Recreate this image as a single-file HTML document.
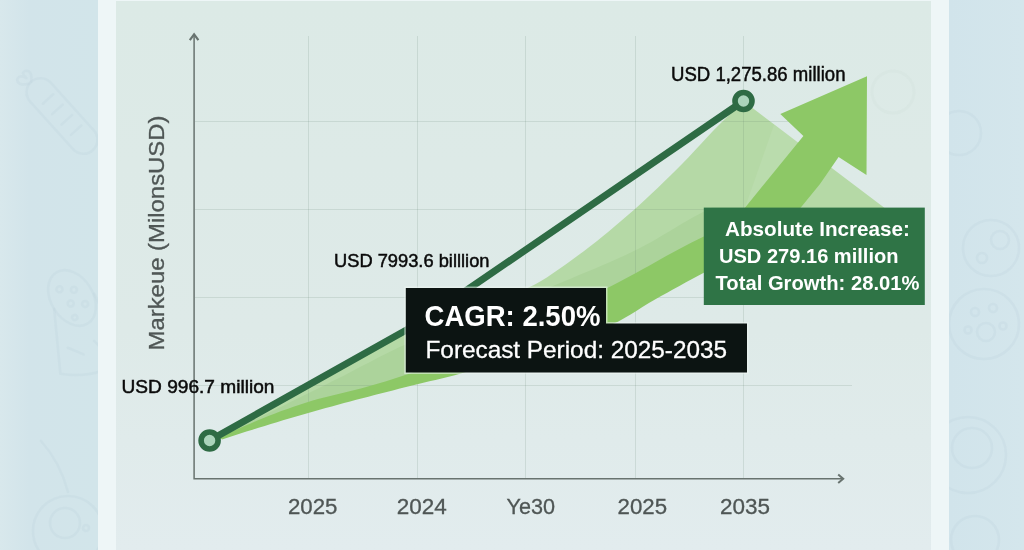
<!DOCTYPE html>
<html lang="en">
<head>
<meta charset="utf-8">
<title>Market Forecast</title>
<style>
html,body{margin:0;padding:0;}
body{width:1024px;height:550px;overflow:hidden;background:#d2e4e9;font-family:"Liberation Sans",sans-serif;}
svg{display:block;position:absolute;left:0;top:0;}
text{font-family:"Liberation Sans",sans-serif;}
</style>
</head>
<body>
<svg width="1024" height="550" viewBox="0 0 1024 550">
<defs>
<linearGradient id="bgL" x1="0" x2="1" y1="0" y2="0">
<stop offset="0" stop-color="#d8e8ec"/><stop offset="0.3" stop-color="#d2e4ea"/><stop offset="1" stop-color="#d2e5ea"/>
</linearGradient>
<linearGradient id="bgR" x1="0" x2="1" y1="0" y2="0">
<stop offset="0" stop-color="#d1e4eb"/><stop offset="1" stop-color="#d4e6ec"/>
</linearGradient>
<linearGradient id="panel" x1="0" x2="0" y1="0" y2="1">
<stop offset="0" stop-color="#dceae6"/><stop offset="0.6" stop-color="#deeae8"/><stop offset="1" stop-color="#e2ecee"/>
</linearGradient>
</defs>
<rect x="0" y="0" width="1024" height="550" fill="#d2e4e9"/>
<rect x="0" y="0" width="98" height="550" fill="url(#bgL)"/>
<rect x="949" y="0" width="75" height="550" fill="url(#bgR)"/>
<!-- faint background doodles -->
<g fill="none" stroke="#bfd4dd" stroke-opacity="0.3" stroke-width="2.6" stroke-linecap="round" stroke-linejoin="round">
<g transform="translate(62,116) rotate(48)">
<rect x="-46" y="-14" width="92" height="28" rx="14"/>
<path d="M-22,-8V6 M-8,-8V6 M6,-8V6 M20,-8V6"/>
<path d="M-46,0q-8,-9 -12,-3q-2,5 6,4q-8,3 -5,8q5,4 11,-6"/>
</g>
<g transform="translate(72,298) rotate(-32)">
<ellipse cx="0" cy="0" rx="21" ry="30"/>
<circle cx="-6" cy="-14" r="3"/><circle cx="6" cy="-6" r="3"/><circle cx="-4" cy="4" r="3"/><circle cx="8" cy="12" r="3"/><circle cx="-8" cy="18" r="2.6"/>
<path d="M-21,0L-50,58 M21,8L14,78 M-50,58Q-20,84 14,78"/>
<path d="M-30,40l10,14 M-4,48l4,18"/>
</g>
<circle cx="68" cy="531" r="35"/><circle cx="65" cy="523" r="15"/><circle cx="86" cy="528" r="3"/>
<path d="M41,441Q60,462 68,492"/>
<circle cx="959" cy="133" r="22"/>
<circle cx="991" cy="248" r="28"/><circle cx="1000" cy="240" r="9"/><circle cx="982" cy="258" r="5"/>
<circle cx="984" cy="324" r="35"/><circle cx="975" cy="312" r="4"/><circle cx="993" cy="308" r="4"/><circle cx="986" cy="332" r="9"/><circle cx="1003" cy="326" r="3.5"/><circle cx="968" cy="330" r="3.5"/>
<circle cx="968" cy="455" r="38"/><circle cx="972" cy="448" r="20"/>
<circle cx="975" cy="540" r="24"/>
</g>
<rect x="98" y="0" width="851" height="550" fill="#eef6f7"/>
<rect x="116" y="1" width="815" height="549" fill="url(#panel)"/>
<circle cx="893" cy="92" r="21" fill="none" stroke="#cfdcd8" stroke-opacity="0.2" stroke-width="3"/>

<polygon points="209.6,440.5 418.0,323.5 424.2,322.8 430.3,321.8 436.5,320.7 442.6,319.4 448.8,317.9 454.9,316.3 461.1,314.4 467.2,312.5 473.4,310.4 479.5,308.2 485.7,305.9 491.8,303.5 498.0,301.0 504.1,298.4 510.3,295.8 516.4,293.1 522.6,290.3 528.7,287.6 534.9,284.5 541.0,281.0 547.2,277.2 553.3,273.1 559.5,268.8 565.6,264.4 571.8,259.9 577.9,255.5 584.1,250.9 590.2,246.3 596.4,241.5 602.5,236.5 608.7,231.5 614.8,226.3 621.0,221.1 627.1,215.8 633.3,210.4 639.4,204.9 645.6,199.3 651.7,193.6 657.9,187.8 664.0,181.8 670.2,175.8 676.3,169.7 682.5,163.5 688.6,157.2 694.8,150.6 700.9,144.0 707.1,137.3 713.2,130.7 719.4,124.4 725.5,118.4 731.7,112.6 737.8,107.0 744.0,101.5 884.0,207.6 900.0,222.0 780.0,235.0 720.0,245.3 712.8,249.4 705.6,253.6 698.3,257.4 691.1,261.1 683.9,264.9 676.7,268.8 669.5,272.8 662.3,276.8 655.0,280.9 647.8,285.0 640.6,289.3 633.4,293.5 626.2,297.7 619.0,301.6 611.7,305.2 604.5,308.5 597.3,311.8 590.1,315.0 582.9,318.1 575.7,321.2 568.4,324.2 561.2,327.1 554.0,330.0 546.8,332.9 539.6,335.7 532.3,338.4 525.1,341.2 517.9,343.8 510.7,346.5 503.5,349.1 496.3,351.7 489.0,354.2 481.8,356.7 474.6,359.2 467.4,361.7 460.2,364.1 453.0,366.5 445.7,368.8 438.5,371.1 431.3,373.3 424.1,375.5 416.9,377.6 409.7,379.8 402.4,382.0 395.2,384.1 388.0,386.1 380.8,388.1 373.6,390.1 366.3,392.0 359.1,394.0 351.9,395.8 344.7,397.7 337.5,399.5 330.3,401.4 323.0,403.3 315.8,405.2 308.6,407.3 301.4,409.5 294.2,411.8 287.0,414.1 279.7,416.5 272.5,418.9 265.3,421.5 258.1,424.1 250.9,426.7 243.7,429.5 236.4,432.3 229.2,435.1 222.0,438.0" fill="#b5d9a6"/>
<polygon points="216.0,438.5 222.1,435.6 228.2,432.6 234.4,429.6 240.5,426.7 246.6,423.7 252.7,420.7 258.9,417.7 265.0,414.7 271.1,411.7 277.2,408.7 283.4,405.7 289.5,402.6 295.6,399.6 301.7,396.6 307.9,393.5 314.0,390.5 320.1,387.4 326.2,384.4 332.3,381.3 338.5,378.3 344.6,375.2 350.7,372.0 356.8,368.8 363.0,365.6 369.1,362.4 375.2,359.2 381.3,356.1 387.5,353.0 393.6,350.0 399.7,347.1 405.8,344.4 412.0,341.7 418.1,339.0 424.2,336.4 430.3,333.8 436.4,331.3 442.6,328.8 448.7,326.4 454.8,324.0 460.9,321.6 467.1,319.2 473.2,316.9 479.3,314.5 485.4,312.2 491.6,309.9 497.7,307.5 503.8,305.2 509.9,302.9 516.0,300.5 522.2,298.2 528.3,295.8 534.4,293.4 540.5,290.9 546.7,288.5 552.8,286.0 558.9,283.5 565.0,280.9 571.2,278.4 577.3,275.8 583.4,273.3 589.5,270.8 595.7,268.2 601.8,265.6 607.9,263.0 614.0,260.3 620.1,257.5 626.3,254.7 632.4,251.8 638.5,248.7 644.6,245.5 650.8,242.2 656.9,238.7 663.0,235.1 669.1,231.4 675.3,227.7 681.4,224.1 687.5,220.5 693.6,217.0 699.8,213.7 705.9,210.6 712.0,207.6 745.0,207.6 745.0,209.6 738.3,215.8 731.6,221.0 724.9,225.5 718.2,229.8 711.5,233.8 704.8,237.9 698.1,241.3 691.4,244.6 684.7,248.0 678.0,251.5 671.3,255.2 664.6,258.9 657.9,262.6 651.3,266.4 644.6,270.2 637.9,273.9 631.2,277.5 624.5,281.2 617.8,284.7 611.1,288.2 604.4,291.5 597.7,294.8 591.0,298.0 584.3,301.2 577.6,304.4 570.9,307.6 564.2,310.8 557.5,314.0 550.8,317.1 544.1,320.2 537.4,323.3 530.7,326.3 524.0,329.3 517.3,332.3 510.6,335.3 503.9,338.2 497.2,341.1 490.5,344.0 483.8,346.9 477.2,349.7 470.5,352.4 463.8,355.1 457.1,357.8 450.4,360.5 443.7,363.1 437.0,365.6 430.3,368.1 423.6,370.6 416.9,373.0 410.2,375.3 403.5,377.7 396.8,379.9 390.1,382.0 383.4,384.0 376.7,385.9 370.0,387.9 363.3,389.7 356.6,391.5 349.9,393.2 343.2,394.8 336.5,396.4 329.8,398.0 323.1,399.7 316.4,401.5 309.7,403.5 303.1,405.6 296.4,407.8 289.7,410.1 283.0,412.5 276.3,415.0 269.6,417.5 262.9,420.2 256.2,423.0 249.5,425.9 242.8,428.8 236.1,431.9 229.4,435.0 222.7,438.2 216.0,439.5" fill="#acd39b"/>
<polygon points="774,124.8 800,143.5 745,207.6" fill="#ffffff" fill-opacity="0.08"/>
<g stroke="#5f7f6a" stroke-opacity="0.16" stroke-width="1" fill="none">
<path d="M195,121.5H852 M195,209.5H852 M195,297.5H852 M195,385.5H852"/>
<path d="M308.5,36V478 M417.5,36V478 M525.5,36V478 M635.5,36V478 M743.5,36V478"/>
</g>
<polygon points="220.0,437.5 226.1,434.5 232.2,431.6 238.4,428.8 244.5,426.0 250.6,423.4 256.7,420.8 262.9,418.2 269.0,415.8 275.1,413.4 281.2,411.1 287.4,408.9 293.5,406.7 299.6,404.7 305.7,402.7 311.9,400.8 318.0,399.1 324.1,397.5 330.2,395.9 336.4,394.4 342.5,393.0 348.6,391.5 354.7,390.0 360.9,388.4 367.0,386.7 373.1,385.0 379.2,383.2 385.3,381.4 391.5,379.5 397.6,377.6 403.7,375.6 409.8,373.5 416.0,371.3 422.1,369.1 428.2,366.9 434.3,364.6 440.5,362.3 446.6,359.9 452.7,357.5 458.8,355.1 465.0,352.7 471.1,350.2 477.2,347.6 483.3,345.1 489.5,342.5 495.6,339.9 501.7,337.2 507.8,334.5 514.0,331.8 520.1,329.1 526.2,326.4 532.3,323.6 538.5,320.8 544.6,318.0 550.7,315.1 556.8,312.3 562.9,309.4 569.1,306.5 575.2,303.6 581.3,300.7 587.4,297.7 593.6,294.8 599.7,291.8 605.8,288.8 611.9,285.8 618.1,282.6 624.2,279.3 630.3,276.0 636.4,272.7 642.6,269.3 648.7,265.9 654.8,262.4 660.9,259.0 667.1,255.5 673.2,252.2 679.3,248.9 685.4,245.7 691.6,242.6 697.7,239.5 703.8,236.5 722.0,225.5 736.0,216.0 745.2,207.4 803.4,136.0 780.3,114.0 867.0,76.3 866.5,175.0 838.6,156.9 820.0,184.0 800.8,207.4 775.0,231.0 740.0,253.0 703.8,272.7 697.7,276.0 691.6,279.2 685.5,282.6 679.4,285.9 673.3,289.3 667.2,292.7 661.1,296.1 655.0,299.5 648.9,303.1 642.8,306.8 636.7,310.7 630.6,314.5 624.5,318.1 618.4,321.4 612.3,324.2 606.2,326.9 600.1,329.4 594.0,331.9 587.9,334.3 581.8,336.6 575.7,338.9 569.6,341.1 563.5,343.2 557.4,345.3 551.3,347.3 545.2,349.3 539.1,351.2 533.0,353.1 526.9,354.9 520.8,356.7 514.7,358.5 508.6,360.3 502.5,362.0 496.4,363.7 490.3,365.4 484.2,367.1 478.1,368.8 472.0,370.5 465.9,372.1 459.9,373.8 453.8,375.4 447.7,376.9 441.6,378.4 435.5,379.9 429.4,381.3 423.3,382.8 417.2,384.2 411.1,385.7 405.0,387.3 398.9,388.8 392.8,390.4 386.7,391.9 380.6,393.5 374.5,395.1 368.4,396.7 362.3,398.2 356.2,399.8 350.1,401.5 344.0,403.1 337.9,404.7 331.8,406.4 325.7,408.0 319.6,409.7 313.5,411.4 307.4,413.2 301.3,414.9 295.2,416.7 289.1,418.5 283.0,420.3 276.9,422.2 270.8,424.0 264.7,425.9 258.6,427.8 252.5,429.7 246.4,431.6 240.3,433.6 234.2,435.5 228.1,437.5 222.0,439.5" fill="#8dc866"/>

<!-- axes -->
<g stroke="#68736f" stroke-width="1.5" fill="none">
<path d="M194.1,35.5V478.7H842.5"/>
<path d="M189.8,40.2L194.1,34.4L198.4,40.2" stroke-width="2.2" stroke-linejoin="miter"/>
<path d="M838.2,474.4L843.2,478.7L838.2,483" stroke-width="2"/>
</g>
<!-- dark line -->
<polyline points="209.6,440.5 418,323.5 743.5,101" fill="none" stroke="#2e6b44" stroke-width="7" stroke-linejoin="round"/>
<circle cx="209.6" cy="440.5" r="8.5" fill="#abd4bb" stroke="#2e6b44" stroke-width="5.6"/>
<circle cx="743.5" cy="101" r="8.5" fill="#abd4bb" stroke="#2e6b44" stroke-width="5.6"/>
<!-- green box -->
<rect x="703.8" y="207.6" width="221" height="97.4" fill="#2f7446"/>
<g fill="#ffffff" font-weight="bold" font-size="20.5">
<text x="725" y="235.7" textLength="185" lengthAdjust="spacingAndGlyphs">Absolute Increase:</text>
<text x="719" y="263.3" textLength="179.5" lengthAdjust="spacingAndGlyphs">USD 279.16 million</text>
<text x="715.5" y="290.4" textLength="204" lengthAdjust="spacingAndGlyphs">Total Growth: 28.01%</text>
</g>
<!-- black box -->
<path d="M405.8,288H606V323.5H747V372.4H405.8Z" fill="#0c1412" stroke="#eef5f3" stroke-opacity="0.55" stroke-width="3" paint-order="stroke"/>
<text x="424.5" y="325.7" fill="#fff" font-weight="bold" font-size="29.5" textLength="176" lengthAdjust="spacingAndGlyphs">CAGR: 2.50%</text>
<text x="425.5" y="358.4" fill="#fff" stroke="#fff" stroke-width="0.3" font-size="24.5" textLength="301.5" lengthAdjust="spacingAndGlyphs">Forecast Period: 2025-2035</text>
<!-- labels -->
<g fill="#0a0a0a" stroke="#0a0a0a" stroke-width="0.5" font-size="19">
<text x="121.5" y="393.2" textLength="153" lengthAdjust="spacingAndGlyphs">USD 996.7 million</text>
<text x="334" y="266.9" textLength="155.5" lengthAdjust="spacingAndGlyphs">USD 7993.6 billlion</text>
<text x="671" y="81.4" font-size="20.5" textLength="174.5" lengthAdjust="spacingAndGlyphs">USD 1,275.86 million</text>
</g>
<g fill="#4f5655" stroke="#4f5655" stroke-width="0.3" font-size="21.6">
<text x="288" y="514" textLength="49.5" lengthAdjust="spacingAndGlyphs">2025</text>
<text x="396.7" y="514" textLength="50" lengthAdjust="spacingAndGlyphs">2024</text>
<text x="506.5" y="514" textLength="48.5" lengthAdjust="spacingAndGlyphs">Ye30</text>
<text x="617.6" y="514" textLength="49.5" lengthAdjust="spacingAndGlyphs">2025</text>
<text x="720" y="514" textLength="50" lengthAdjust="spacingAndGlyphs">2035</text>
</g>
<text transform="translate(163.8,350.5) rotate(-90)" fill="#4f5655" stroke="#4f5655" stroke-width="0.3" font-size="22.5" textLength="235" lengthAdjust="spacingAndGlyphs">Markeue (MilonsUSD)</text>
</svg>
</body>
</html>
